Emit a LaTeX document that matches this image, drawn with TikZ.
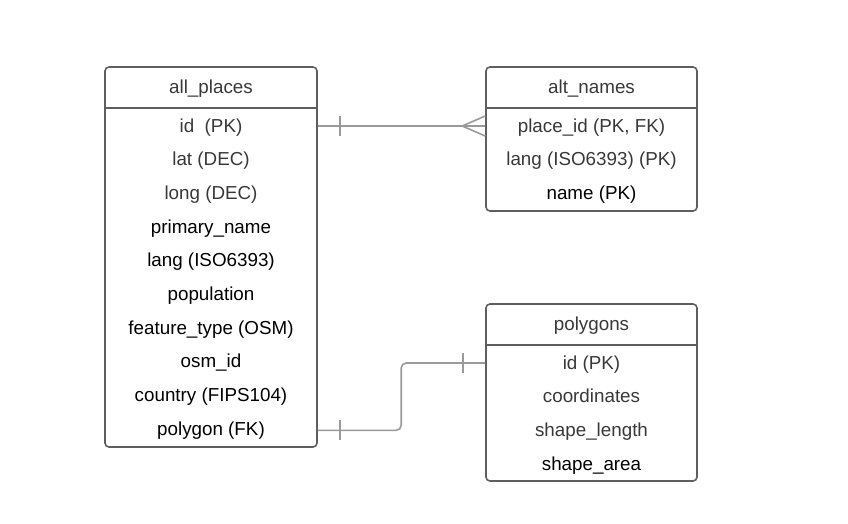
\documentclass[tikz,border=0pt]{standalone}
\usepackage{fontspec}
\setmainfont{Liberation Sans}
\usetikzlibrary{calc}

\definecolor{boxgray}{HTML}{5E5E5E}
\definecolor{linegray}{HTML}{9A9A9A}
\definecolor{fieldgray}{HTML}{383838}

\tikzset{
  tbl/.style={draw=boxgray, line width=1.6pt, rounded corners=4pt, inner sep=0pt},
  sep/.style={draw=boxgray, line width=1.6pt},
  fld/.style={font=\fontsize{18.8}{22}\selectfont, text=fieldgray, inner sep=0pt, text height=14pt, text depth=4pt},
  keyfld/.style={fld, text=black},
  rel/.style={draw=linegray, line width=1.6pt},
}

\begin{document}
\begin{tikzpicture}[x=1pt,y=-1pt]
    \useasboundingbox (0,0) rectangle (848,523);

    % all_places
    \node[tbl, minimum width=212pt, minimum height=380pt] (places) at (211,257) {};
    \draw[sep] ($(places.north west)+(0,42)$) -- ($(places.north east)+(0,42)$);
    \node[fld] (ptitle) at (211,88) {all\_places};
    \node[fld] (pid) at (211,127) {id\ \ (PK)};
    \node[fld] (plat) at (211,160.7) {lat (DEC)};
    \node[fld] (plong) at (211,194.4) {long (DEC)};
    \node[keyfld] (pname) at (211,228.1) {primary\_name};
    \node[keyfld] (plang) at (211,261.8) {lang (ISO6393)};
    \node[keyfld] (ppop) at (211,295.5) {population};
    \node[keyfld] (pfeat) at (211,329.2) {feature\_type (OSM)};
    \node[keyfld] (posm) at (211,362.9) {osm\_id};
    \node[keyfld] (pcountry) at (211,396.6) {country (FIPS104)};
    \node[keyfld] (ppoly) at (211,430.3) {polygon (FK)};

    % alt_names
    \node[tbl, minimum width=211pt, minimum height=144pt] (names) at (591.5,139) {};
    \draw[sep] ($(names.north west)+(0,42)$) -- ($(names.north east)+(0,42)$);
    \node[fld] (ntitle) at (591.5,88) {alt\_names};
    \node[fld] (nid) at (591.5,127) {place\_id (PK, FK)};
    \node[fld] (nlang) at (591.5,160.7) {lang (ISO6393) (PK)};
    \node[keyfld] (nname) at (591.5,194.4) {name (PK)};

    % polygons
    \node[tbl, minimum width=211pt, minimum height=177pt] (polys) at (591.5,392.5) {};
    \draw[sep] ($(polys.north west)+(0,42)$) -- ($(polys.north east)+(0,42)$);
    \node[fld] (gtitle) at (591.5,325) {polygons};
    \node[fld] (gid) at (591.5,364) {id (PK)};
    \node[fld] (gcoord) at (591.5,397.7) {coordinates};
    \node[fld] (glen) at (591.5,431.4) {shape\_length};
    \node[keyfld] (garea) at (591.5,465.1) {shape\_area};

    % all_places -- alt_names (one to many)
    \draw[rel] ($(places.east |- pid)+(0,-1)$) -- ($(names.west |- pid)+(0,-1)$);
    \draw[rel] ($(places.east |- pid)+(22,-11)$) -- ($(places.east |- pid)+(22,9)$);
    \draw[rel] ($(names.west |- pid)+(0,-11)$) -- ($(names.west |- pid)+(-23,-1)$) -- ($(names.west |- pid)+(0,9)$);

    % all_places -- polygons (one to one)
    \draw[rel, rounded corners=5pt] (places.east |- ppoly) -| ($(polys.west |- gid)+(-84,-1)$) -- ($(polys.west |- gid)+(0,-1)$);
    \draw[rel] ($(places.east |- ppoly)+(22,-10)$) -- ($(places.east |- ppoly)+(22,10)$);
    \draw[rel] ($(polys.west |- gid)+(-22,-11)$) -- ($(polys.west |- gid)+(-22,9)$);
\end{tikzpicture}
\end{document}
